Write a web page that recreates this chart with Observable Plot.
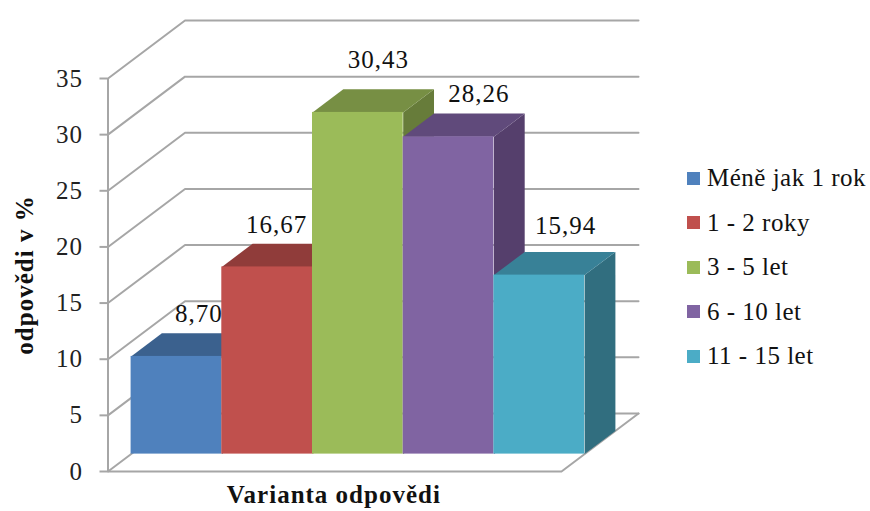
<!DOCTYPE html>
<html lang="cs">
<head>
<meta charset="utf-8">
<script src="https://cdn.jsdelivr.net/npm/d3@7"></script>
<script src="https://cdn.jsdelivr.net/npm/@observablehq/plot@0.6"></script>
<style>
  html, body { margin: 0; padding: 0; background: #fff; }
  #wrap { position: relative; width: 870px; height: 511px; overflow: hidden; }
  #legend { position: absolute; left: 687px; top: 156px; font: 25px "Liberation Serif", serif; letter-spacing: 0.5px; color: #111; }
  #legend div { display: flex; align-items: center; height: 44.5px; white-space: nowrap; }
  #legend i { display: block; width: 13px; height: 13px; margin-right: 7px; }
  #chart svg text { letter-spacing: 1px; }
  #chart svg g[aria-label="axis title x"] text { letter-spacing: 1.3px; }
  #chart svg g[aria-label="axis title y"] text { letter-spacing: 0.4px; }
</style>
</head>
<body>
<div id="wrap"><div id="chart"></div><div id="legend"></div></div>
<script>
// Survey answers: share of respondents by length of practice
const categories = ["Méně jak 1 rok", "1 - 2 roky", "3 - 5 let", "6 - 10 let", "11 - 15 let"];
const values = [8.70, 16.67, 30.43, 28.26, 15.94];
const yTicks = [0, 5, 10, 15, 20, 25, 30, 35];
const frontColors = ["#4f81bd", "#c0504d", "#9bbb59", "#8064a2", "#4bacc6"];
const topColors = ["#3b618e", "#903c3a", "#778f44", "#604a7b", "#388197"];
const sideColors = ["#2f4e72", "#7a3331", "#677c3a", "#553f6c", "#316e7f"];

// Oblique projection: depth 0 is the front of the chart box, depth 1 its back wall.
const depthX = 0.849, depthY = 5.165;
const barFront = 0.3, barBack = 0.7;
const px = (i, z) => i + z * depthX;
const py = (v, z) => v + z * depthY;
const pt = (i, v, z) => ({x: px(i, z), y: py(v, z)});

const gridColor = "#a6a6a6";
const gridWidth = 2;
const serif = '"Liberation Serif", serif';

// Walls: every gridline runs along the side wall and then across the back wall
const wallLines = yTicks.map((t) =>
  Plot.line([pt(0, t, 0), pt(0, t, 1), pt(5, t, 1)], {x: "x", y: "y", stroke: gridColor, strokeWidth: gridWidth})
);
const floorEdge = Plot.line([pt(0, 0, 0), pt(5, 0, 0), pt(5, 0, 1)], {x: "x", y: "y", stroke: gridColor, strokeWidth: gridWidth});

// Each column is painted side, top, front, left to right so nearer faces cover farther ones
const columns = values.flatMap((v, i) => [
  Plot.line([pt(i + 1, 0, barFront), pt(i + 1, 0, barBack), pt(i + 1, v, barBack), pt(i + 1, v, barFront)],
    {x: "x", y: "y", fill: sideColors[i], stroke: "none"}),
  Plot.line([pt(i, v, barFront), pt(i + 1, v, barFront), pt(i + 1, v, barBack), pt(i, v, barBack)],
    {x: "x", y: "y", fill: topColors[i], stroke: "none"}),
  Plot.rect([{i, v}], {
    x1: (d) => px(d.i, barFront), x2: (d) => px(d.i + 1, barFront),
    y1: () => py(0, barFront), y2: (d) => py(d.v, barFront),
    fill: frontColors[i]
  })
]);

// Value labels sit above the back edge of each column's top, hand-nudged off the neighbours
const labelNudge = [[7, -19], [-6, -19], [5, -29], [15, -20], [11, -26]];
const valueLabels = values.map((v, i) =>
  Plot.text([v], {
    x: () => px(i + 0.5, 0.5),
    y: () => py(v, barBack),
    text: (d) => d.toFixed(2).replace(".", ","),
    dx: labelNudge[i][0], dy: labelNudge[i][1],
    fontSize: 25, fontFamily: serif, fill: "#111"
  })
);

const chart = Plot.plot({
  width: 870,
  height: 511,
  marginLeft: 107.5,
  marginRight: 309,
  marginTop: 78,
  marginBottom: 40,
  style: {background: "#fff", fontFamily: serif},
  x: {domain: [0, 5], axis: null},
  y: {domain: [0, 35]},
  marks: [
    ...wallLines,
    floorEdge,
    Plot.ruleX([0], {y1: 0, y2: 35, stroke: gridColor, strokeWidth: gridWidth}),
    Plot.axisY({
      ticks: yTicks, tickSize: 8, tickPadding: 17, label: null,
      fontSize: 25, stroke: gridColor, strokeWidth: gridWidth, fill: "#222"
    }),
    ...columns,
    ...valueLabels,
    Plot.text(["odpovědi v %"], {
      frameAnchor: "left", y: () => 17.5, dx: -83, rotate: -90, textAnchor: "middle",
      fontSize: 25, fontWeight: "bold", fontFamily: serif, fill: "#111",
      ariaLabel: "axis title y"
    }),
    Plot.text(["Varianta odpovědi"], {
      x: () => 2.49, frameAnchor: "bottom", dy: 31,
      fontSize: 25, fontWeight: "bold", fontFamily: serif, fill: "#111",
      ariaLabel: "axis title x"
    })
  ]
});
document.getElementById("chart").append(chart);

// Legend to the right of the plot
const legend = d3.select("#legend");
categories.forEach((c, i) => {
  const row = legend.append("div");
  row.append("i").style("background", frontColors[i]);
  row.append("span").text(c);
});
</script>
</body>
</html>
